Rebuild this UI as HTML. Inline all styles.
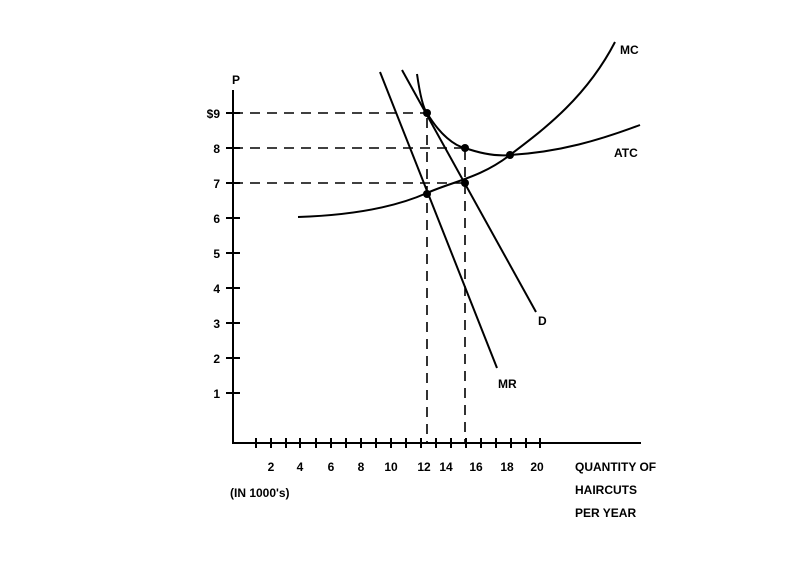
<!DOCTYPE html>
<html><head><style>body{margin:0;background:#fff}svg{display:block}text{font-family:"Liberation Sans",sans-serif;font-weight:bold;font-size:12px;fill:#000}</style></head><body>
<svg width="800" height="564" viewBox="0 0 800 564">
<g stroke="#000" stroke-width="2" fill="none">
<line x1="233" y1="90" x2="233" y2="444"/>
<line x1="232" y1="443" x2="641" y2="443"/>
<g stroke-dasharray="10,7" stroke-width="1.6">
<line x1="233" y1="113" x2="427" y2="113"/>
<line x1="233" y1="148" x2="465" y2="148"/>
<line x1="233" y1="183" x2="465" y2="183"/>
<line x1="427" y1="118" x2="427" y2="443"/>
<line x1="465" y1="150" x2="465" y2="443"/>
</g>
<path d="M380 72 L497 368"/>
<path d="M402 70 L536 312"/>
<path d="M298 217 C360 215 400 205 427 193 S480 178 510 155 S585 100 615 42"/>
<path d="M417 74 C420 95 423 108 427 113 C440 135 455 146 465 148 C485 155 500 156 510 155 C560 152 600 140 640 125"/>
<path d="M226 113h14M226 148h14M226 183h14M226 218h14M226 253h14M226 288h14M226 323h14M226 358h14M226 393h14"/>
<path d="M256 438v10M271 438v10M286 438v10M300 438v10M316 438v10M331 438v10M346 438v10M361 438v10M376 438v10M391 438v10M406 438v10M421 438v10M436 438v10M451 438v10M466 438v10M481 438v10M496 438v10M511 438v10M526 438v10M540 438v10"/>
</g>
<g fill="#000"><circle cx="427" cy="113" r="4"/><circle cx="465" cy="148" r="4"/><circle cx="427" cy="194" r="4"/><circle cx="465" cy="183" r="4"/><circle cx="510" cy="155" r="4"/></g>
<text x="232" y="84">P</text>
<g text-anchor="end"><text x="220" y="118">$9</text><text x="220" y="153">8</text><text x="220" y="188">7</text><text x="220" y="223">6</text><text x="220" y="258">5</text><text x="220" y="293">4</text><text x="220" y="328">3</text><text x="220" y="363">2</text><text x="220" y="398">1</text></g>
<g text-anchor="middle"><text x="271" y="471">2</text><text x="300" y="471">4</text><text x="331" y="471">6</text><text x="361" y="471">8</text><text x="391" y="471">10</text><text x="424" y="471">12</text><text x="446" y="471">14</text><text x="476" y="471">16</text><text x="507" y="471">18</text><text x="537" y="471">20</text></g>
<text x="230" y="497">(IN 1000's)</text>
<text x="575" y="471">QUANTITY OF</text><text x="575" y="494">HAIRCUTS</text><text x="575" y="517">PER YEAR</text>
<text x="620" y="54">MC</text><text x="614" y="157">ATC</text><text x="538" y="325">D</text><text x="498" y="388">MR</text>
</svg></body></html>
